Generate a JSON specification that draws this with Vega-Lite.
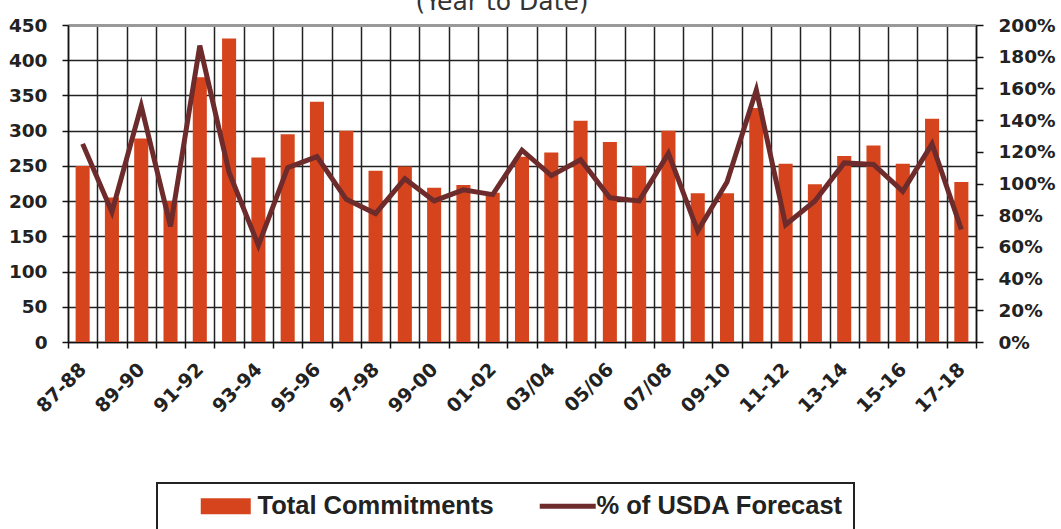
{
  "$schema": "https://vega.github.io/schema/vega-lite/v6.json",
  "width": 908,
  "height": 317,
  "autosize": {"type": "none"},
  "padding": {"left": 68, "top": 25, "right": 85, "bottom": 187},
  "background": "white",
  "title": {
    "text": "(Year to Date)",
    "frame": "group",
    "anchor": "middle",
    "dx": -20,
    "dy": 19,
    "offset": 0,
    "baseline": "alphabetic",
    "font": "DejaVu Sans",
    "fontSize": 25,
    "fontWeight": "normal",
    "color": "#333"
  },
  "data": {
    "values": [
      {"season": "87-88", "commit": 250, "pct": 125},
      {"season": "88-89", "commit": 205, "pct": 82},
      {"season": "89-90", "commit": 289, "pct": 149},
      {"season": "90-91", "commit": 200, "pct": 73},
      {"season": "91-92", "commit": 376, "pct": 187},
      {"season": "92-93", "commit": 431, "pct": 107},
      {"season": "93-94", "commit": 262, "pct": 61},
      {"season": "94-95", "commit": 295, "pct": 110},
      {"season": "95-96", "commit": 341, "pct": 117},
      {"season": "96-97", "commit": 300, "pct": 90},
      {"season": "97-98", "commit": 243, "pct": 81},
      {"season": "98-99", "commit": 249, "pct": 103},
      {"season": "99-00", "commit": 219, "pct": 89},
      {"season": "00-01", "commit": 223, "pct": 96},
      {"season": "01-02", "commit": 212, "pct": 93},
      {"season": "02-03", "commit": 263, "pct": 121},
      {"season": "03/04", "commit": 269, "pct": 105},
      {"season": "04-05", "commit": 314, "pct": 115},
      {"season": "05/06", "commit": 284, "pct": 91},
      {"season": "06-07", "commit": 250, "pct": 89},
      {"season": "07/08", "commit": 300, "pct": 119},
      {"season": "08-09", "commit": 211, "pct": 70},
      {"season": "09-10", "commit": 211, "pct": 101},
      {"season": "10-11", "commit": 332, "pct": 159},
      {"season": "11-12", "commit": 253, "pct": 74},
      {"season": "12-13", "commit": 224, "pct": 89},
      {"season": "13-14", "commit": 264, "pct": 113},
      {"season": "14-15", "commit": 279, "pct": 112},
      {"season": "15-16", "commit": 253, "pct": 95},
      {"season": "16-17", "commit": 317, "pct": 125},
      {"season": "17-18", "commit": 227, "pct": 71}
    ]
  },
  "encoding": {
    "x": {
      "field": "season",
      "type": "nominal",
      "sort": null,
      "scale": {"paddingInner": 0, "paddingOuter": 0},
      "axis": {
        "title": null,
        "tickBand": "extent",
        "grid": true,
        "gridColor": "#222",
        "gridWidth": 1.5,
        "domainColor": "#111",
        "domainWidth": 1.5,
        "ticks": true,
        "tickSize": 6,
        "tickColor": "#111",
        "tickWidth": 1.5,
        "labelAngle": -45,
        "labelAlign": "right",
        "labelBaseline": "middle",
        "labelFont": "DejaVu Sans",
        "labelFontWeight": "bold",
        "labelFontSize": 19,
        "labelColor": "#222",
        "labelPadding": 18,
        "labelOverlap": false,
        "labelExpr": "indexof(['87-88','89-90','91-92','93-94','95-96','97-98','99-00','01-02','03/04','05/06','07/08','09-10','11-12','13-14','15-16','17-18'], datum.value) >= 0 ? datum.label : ''"
      }
    }
  },
  "layer": [
    {
      "mark": {"type": "bar", "width": {"band": 0.48}},
      "encoding": {
        "y": {
          "field": "commit",
          "type": "quantitative",
          "scale": {"domain": [0, 450], "nice": false},
          "axis": {
            "orient": "left",
            "title": null,
            "values": [0, 50, 100, 150, 200, 250, 300, 350, 400, 450],
            "grid": true,
            "gridColor": {"condition": {"test": "datum.value === 450", "value": "#999"}, "value": "#222"},
            "gridWidth": {"condition": {"test": "datum.value === 450", "value": 3}, "value": 1.5},
            "domainColor": "#111",
            "domainWidth": 1.5,
            "tickSize": 6,
            "tickColor": "#111",
            "tickWidth": 1.5,
            "labelFont": "DejaVu Sans",
            "labelFontWeight": "bold",
            "labelFontSize": 18.5,
            "labelColor": "#222",
            "labelPadding": 15
          }
        },
        "color": {
          "datum": "Total Commitments",
          "scale": {
            "domain": ["Total Commitments", "% of USDA Forecast"],
            "range": ["#D5441C", "#6E2B2B"]
          },
          "legend": {
            "orient": "none",
            "legendX": 89,
            "legendY": 458,
            "direction": "horizontal",
            "title": null,
            "strokeColor": "#222",
            "padding": 10,
            "columnPadding": 12,
            "symbolSize": 400,
            "symbolOffset": 31,
            "labelOffset": 34,
            "labelFont": "Liberation Sans",
            "labelFontWeight": "bold",
            "labelFontSize": 25.5,
            "labelColor": "#222",
            "labelLimit": 400,
            "labelExpr": "datum.value === '% of USDA Forecast' ? datum.label + '\u00a0\u00a0\u00a0\u00a0' : datum.label",
            "encode": {
              "legend": {"update": {"strokeWidth": {"value": 2}}},
              "symbols": {
                "update": {
                  "shape": {"signal": "datum.value === 'Total Commitments' ? 'M-1,-0.8L4,-0.8L4,0.8L-1,0.8Z' : 'M-1,-0.25L4.6,-0.25L4.6,0.25L-1,0.25Z'"},
                  "fill": {"signal": "datum.value === 'Total Commitments' ? '#D5441C' : '#6E2B2B'"},
                  "stroke": {"value": "transparent"},
                  "strokeWidth": {"value": 0},
                  "opacity": {"value": 1}
                }
              }
            }
          }
        }
      }
    },
    {
      "mark": {"type": "line", "strokeWidth": 5, "strokeJoin": "miter"},
      "encoding": {
        "y": {
          "field": "pct",
          "type": "quantitative",
          "scale": {"domain": [0, 200], "nice": false},
          "axis": {
            "orient": "right",
            "title": null,
            "values": [0, 20, 40, 60, 80, 100, 120, 140, 160, 180, 200],
            "labelExpr": "datum.value + '%'",
            "grid": false,
            "domainColor": "#111",
            "domainWidth": 1.5,
            "tickSize": 7,
            "tickColor": "#111",
            "tickWidth": 1.5,
            "labelFont": "DejaVu Sans",
            "labelFontWeight": "bold",
            "labelFontSize": 18.5,
            "labelColor": "#222",
            "labelPadding": 15
          }
        },
        "color": {"datum": "% of USDA Forecast"}
      }
    }
  ],
  "resolve": {"scale": {"y": "independent"}},
  "config": {
    "view": {"stroke": null}
  }
}
